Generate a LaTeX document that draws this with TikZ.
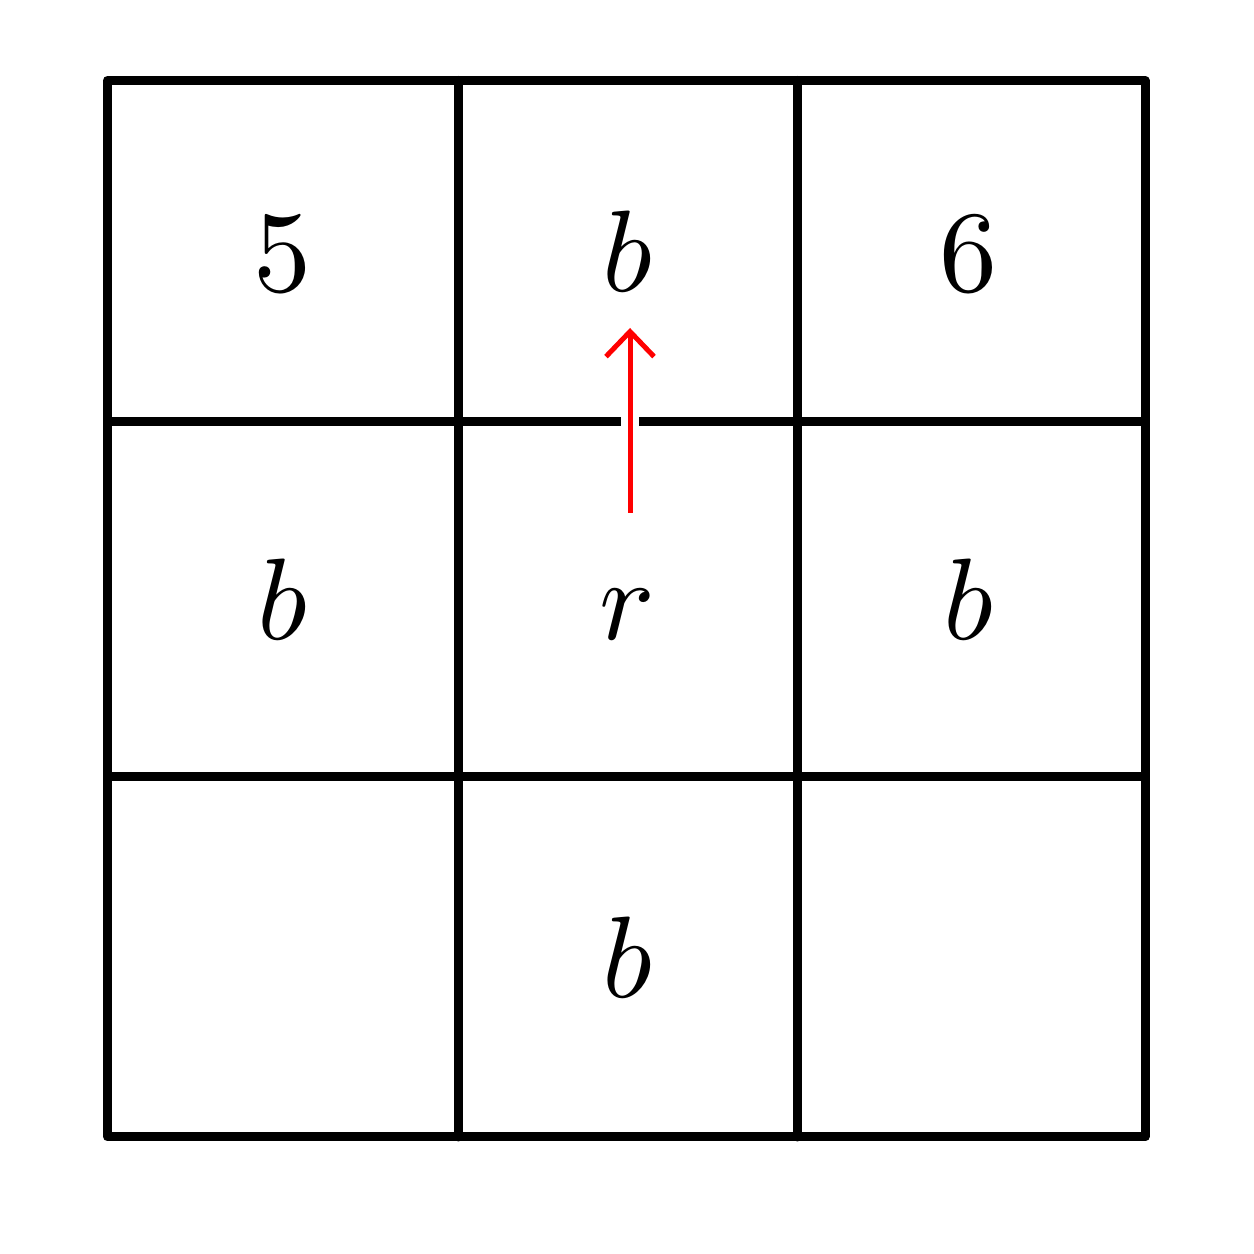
\documentclass[tikz,border=0pt]{standalone}
\usepackage{tikz}
\usetikzlibrary{arrows.meta}

\begin{document}
\begin{tikzpicture}[
    grid/.style={line width=0.09cm, line cap=round, line join=round},
    cell/.style={scale=3.3, text height=6.94pt, text depth=0pt},
    move/.style={-{Straight Barb[length=2.5mm, width=4.8mm]}, red, line width=0.05cm,
      preaction={draw=white, line width=0.18cm, arrows=-}}
]
  \useasboundingbox (0, 0) rectangle (12.54, 12.54);

  % Board
  \draw[grid] (1.075, 1.17) rectangle (11.45, 11.735);
  \draw[grid] (4.58, 1.17) -- (4.58, 11.735);
  \draw[grid] (7.97, 1.17) -- (7.97, 11.735);
  \draw[grid] (1.075, 8.32) -- (11.45, 8.32);
  \draw[grid] (1.075, 4.77) -- (11.45, 4.77);

  % Cell entries
  \node[cell] (c11) at (2.82, 10.03) {$5$};
  \node[cell] (c12) at (6.275, 10.03) {$b$};
  \node[cell] (c13) at (9.68, 10.03) {$6$};
  \node[cell] (c21) at (2.82, 6.545) {$b$};
  \node[cell] (c22) at (6.275, 6.545) {$r$};
  \node[cell] (c23) at (9.68, 6.545) {$b$};
  \node[cell] (c32) at (6.275, 2.97) {$b$};

  % Move of r
  \coordinate (tail) at (6.30, 7.41);
  \coordinate (head) at (6.30, 9.26);
  \draw[move] (tail) -- (head);
\end{tikzpicture}
\end{document}
